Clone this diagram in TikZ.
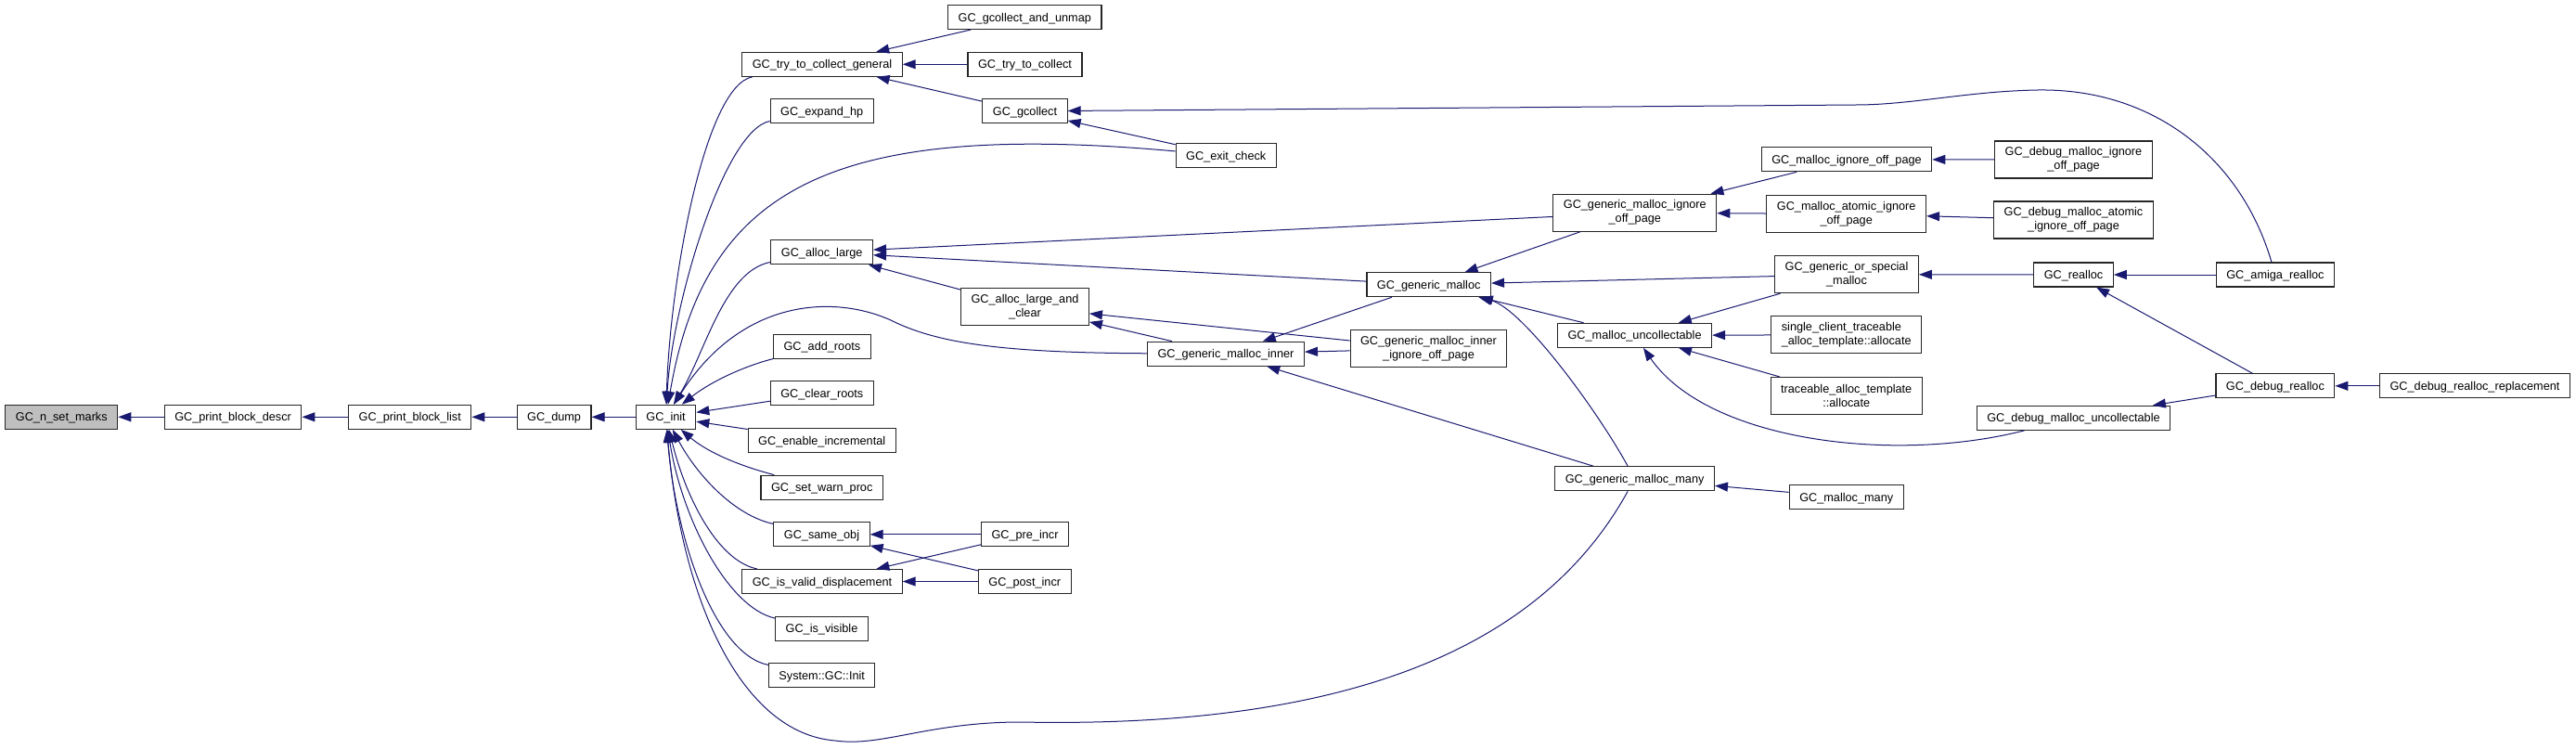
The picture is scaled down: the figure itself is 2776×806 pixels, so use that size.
\documentclass[tikz,border=0pt]{standalone}
\usepackage{fontspec}
\setmainfont{Liberation Sans}
\usetikzlibrary{arrows.meta}
\definecolor{callblue}{HTML}{191970}
\definecolor{focusgray}{HTML}{BFBFBF}

\begin{document}
\begin{tikzpicture}[
    x=1pt, y=-1pt,
    font=\fontsize{12.7}{15}\selectfont,
    fn/.style={draw=black!85, line width=1.1pt, fill=white, minimum height=26pt, inner xsep=11pt, inner ysep=0pt, text height=9pt, text depth=0pt},
    fntwo/.style={draw=black!85, line width=1.1pt, fill=white, minimum height=40pt, inner xsep=11pt, inner ysep=2pt, align=center},
    focus/.style={fn, fill=focusgray},
    call/.style={-{Triangle[length=14pt,width=10pt]}, line width=1pt, draw=callblue}
  ]
    \useasboundingbox (0,0) rectangle (2776,806);

    \node[focus] (marks) at (66.3,449.3) {GC\_n\_set\_marks};
    \node[fn] (descr) at (251.1,449.3) {GC\_print\_block\_descr};
    \node[fn] (blist) at (441.8,449.3) {GC\_print\_block\_list};
    \node[fn] (dump) at (597.1,449.3) {GC\_dump};
    \node[fn] (init) at (717.6,449.3) {GC\_init};

    \node[fn] (tcg) at (886,69.3) {GC\_try\_to\_collect\_general};
    \node[fn] (expand) at (885.7,119.8) {GC\_expand\_hp};
    \node[fn] (alarge) at (885.7,271.8) {GC\_alloc\_large};
    \node[fn] (addroots) at (885.9,373.2) {GC\_add\_roots};
    \node[fn] (clrroots) at (885.8,423.7) {GC\_clear\_roots};
    \node[fn] (enincr) at (885.7,474.5) {GC\_enable\_incremental};
    \node[fn] (warnproc) at (885.7,525.2) {GC\_set\_warn\_proc};
    \node[fn] (sameobj) at (885.5,575.8) {GC\_same\_obj};
    \node[fn] (validdisp) at (886,626.5) {GC\_is\_valid\_displacement};
    \node[fn] (isvis) at (885.5,677.2) {GC\_is\_visible};
    \node[fn] (sysinit) at (885.7,727.8) {System::GC::Init};

    \node[fn] (unmap) at (1104.3,18.5) {GC\_gcollect\_and\_unmap};
    \node[fn] (trycoll) at (1104.5,69.3) {GC\_try\_to\_collect};
    \node[fn] (gcoll) at (1104.5,119.8) {GC\_gcollect};
    \node[fntwo] (alclear) at (1104.5,330.7) {GC\_alloc\_large\_and\\\_clear};
    \node[fn] (preincr) at (1104.5,575.8) {GC\_pre\_incr};
    \node[fn] (postincr) at (1104.3,626.5) {GC\_post\_incr};

    \node[fn] (exitchk) at (1321.2,167.8) {GC\_exit\_check};
    \node[fn] (gmi) at (1321,381.2) {GC\_generic\_malloc\_inner};

    \node[fn] (gm) at (1539.7,306.7) {GC\_generic\_malloc};
    \node[fntwo] (gmiio) at (1539.5,375.8) {GC\_generic\_malloc\_inner\\\_ignore\_off\_page};

    \node[fntwo] (gmio) at (1761.8,229.2) {GC\_generic\_malloc\_ignore\\\_off\_page};
    \node[fn] (mu) at (1761.6,361.3) {GC\_malloc\_uncollectable};
    \node[fn] (gmm) at (1761.6,515.8) {GC\_generic\_malloc\_many};

    \node[fn] (mio) at (1990,171.8) {GC\_malloc\_ignore\_off\_page};
    \node[fntwo] (maio) at (1989.7,230.5) {GC\_malloc\_atomic\_ignore\\\_off\_page};
    \node[fntwo] (gosm) at (1990,295.7) {GC\_generic\_or\_special\\\_malloc};
    \node[fntwo, align=left] (scta) at (1989.7,360.8) {single\_client\_traceable\\\_alloc\_template::allocate};
    \node[fntwo] (tat) at (1989.7,426.5) {traceable\_alloc\_template\\::allocate};
    \node[fn] (mmany) at (1989.7,535.8) {GC\_malloc\_many};

    \node[fntwo] (dmio) at (2234.5,172) {GC\_debug\_malloc\_ignore\\\_off\_page};
    \node[fntwo] (dmaio) at (2234.5,237) {GC\_debug\_malloc\_atomic\\\_ignore\_off\_page};
    \node[fn] (realloc) at (2234.5,296) {GC\_realloc};
    \node[fn] (dmu) at (2234.5,450.3) {GC\_debug\_malloc\_uncollectable};

    \node[fn] (amiga) at (2451.9,296) {GC\_amiga\_realloc};
    \node[fn] (drealloc) at (2451.9,415.8) {GC\_debug\_realloc};
    \node[fn] (drepl) at (2667,415.8) {GC\_debug\_realloc\_replacement};

    \draw[call] (descr) -- (marks);
    \draw[call] (blist) -- (descr);
    \draw[call] (dump) -- (blist);
    \draw[call] (init) -- (dump);

    % callers of GC_init
    \draw[call] (tcg) .. controls (760,92) and (722,300) .. (init);
    \draw[call] (expand) .. controls (780,140) and (724,330) .. (init);
    \draw[call] (exitchk) .. controls (900,130) and (760,200) .. (init);
    \draw[call] (alarge) .. controls (780,292) and (760,380) .. (init);
    \draw[call] (gmi) .. controls (1080,380) and (1010,370) .. (960,345) .. controls (900,318) and (800,320) .. (init);
    \draw[call] (addroots) .. controls (800,395) and (765,412) .. (init);
    \draw[call] (clrroots) -- (init);
    \draw[call] (enincr) -- (init);
    \draw[call] (warnproc) .. controls (790,500) and (760,485) .. (init);
    \draw[call] (sameobj) .. controls (790,555) and (750,510) .. (init);
    \draw[call] (validdisp) .. controls (775,605) and (740,540) .. (init);
    \draw[call] (isvis) .. controls (785,655) and (735,560) .. (init);
    \draw[call] (sysinit) .. controls (770,705) and (728,580) .. (init);
    \draw[call] (gmm) .. controls (1660,700) and (1450,785) .. (1100,778) .. controls (1000,778) and (950,805) .. (900,798) .. controls (800,790) and (735,650) .. (init);

    \draw[call] (unmap) -- (tcg);
    \draw[call] (trycoll) -- (tcg);
    \draw[call] (gcoll) -- (tcg);
    \draw[call] (exitchk) -- (gcoll);
    \draw[call] (amiga) .. controls (2415,170) and (2320,95) .. (2196,97) .. controls (2120,98.3) and (2060,113) .. (2000,113) -- (gcoll);

    \draw[call] (gmio) -- (alarge);
    \draw[call] (gm) -- (alarge);
    \draw[call] (alclear) -- (alarge);
    \draw[call] (gmiio) -- (alclear);
    \draw[call] (gmi) -- (alclear);
    \draw[call] (gm) -- (gmi);
    \draw[call] (gmm) -- (gmi);
    \draw[call] (gmiio) -- (gmi);

    \draw[call] (gmio) -- (gm);
    \draw[call] (gosm) -- (gm);
    \draw[call] (mu) -- (gm);
    \draw[call] (gmm) .. controls (1720,440) and (1640,332) .. (gm);
    \draw[call] (mio) -- (gmio);
    \draw[call] (maio) -- (gmio);
    \draw[call] (dmio) -- (mio);
    \draw[call] (dmaio) -- (maio);
    \draw[call] (realloc) -- (gosm);
    \draw[call] (gosm) -- (mu);
    \draw[call] (scta) -- (mu);
    \draw[call] (tat) -- (mu);
    \draw[call] (dmu) .. controls (2040,500) and (1840,475) .. (mu);
    \draw[call] (mmany) -- (gmm);

    \draw[call] (amiga) -- (realloc);
    \draw[call] (drealloc) -- (realloc);
    \draw[call] (drealloc) -- (dmu);
    \draw[call] (drepl) -- (drealloc);

    \draw[call] (preincr) -- (sameobj);
    \draw[call] (postincr) -- (sameobj);
    \draw[call] (preincr) -- (validdisp);
    \draw[call] (postincr) -- (validdisp);
\end{tikzpicture}
\end{document}
